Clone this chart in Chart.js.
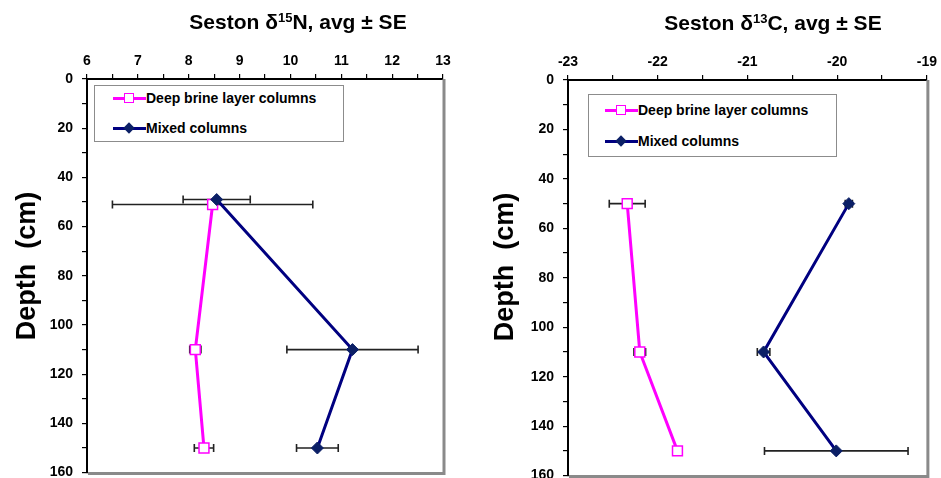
<!DOCTYPE html>
<html>
<head>
<meta charset="utf-8">
<script src="https://cdn.jsdelivr.net/npm/chart.js@4.4.1/dist/chart.umd.min.js"></script>
<style>
  body { margin: 0; background: #fff; width: 941px; height: 478px; overflow: hidden; position: relative;
         font-family: Arial, "Liberation Sans", sans-serif; }
  canvas { position: absolute; top: 0; }
  #chartN { left: 0; }
  #chartC { left: 470px; }
  .legend { position: absolute; background: #fff; border: 1px solid #8c8c8c; box-sizing: border-box; }
  .legend-item { position: absolute; height: 16px; font-weight: bold; font-size: 14px; line-height: 16px;
                 white-space: nowrap; color: #000; }
  .legend-line { position: absolute; top: 7px; width: 33px; height: 3px; }
  .legend-mark { position: absolute; box-sizing: border-box; }
</style>
</head>
<body>
<canvas id="chartN" width="470" height="490"></canvas>
<canvas id="chartC" width="471" height="493"></canvas>
<div id="legendN" class="legend" style="left:94px; top:85px; width:250px; height:57px;"></div>
<div id="legendC" class="legend" style="left:588px; top:94px; width:249px; height:63px;"></div>
<script>
const seriesNames = ['Deep brine layer columns', 'Mixed columns'];

// Seston d15N panel
const brineDepthN = [51, 110, 150];
const brineN = [8.47, 8.13, 8.30];
const brineNse = [1.97, 0.11, 0.19];
const mixedDepthN = [49, 110, 150];
const mixedN = [8.55, 11.22, 10.53];
const mixedNse = [0.66, 1.29, 0.41];

// Seston d13C panel
const depthC = [50, 110, 150];
const brineC = [-22.34, -22.20, -21.78];
const brineCse = [0.20, 0.065, 0];
const mixedC = [-19.87, -20.82, -20.01];
const mixedCse = [0.04, 0.07, 0.80];

const depthTicks = [0, 20, 40, 60, 80, 100, 120, 140, 160];

const magenta = '#FF00FF';
const navy = '#000080';
const navyMark = '#0b1f66';
const fontFamily = 'Arial, "Liberation Sans", sans-serif';

Chart.defaults.font.family = fontFamily;

// error bars, right/bottom frame and the titles
const decor = {
  id: 'decor',
  beforeDatasetsDraw(chart) {
    const { ctx, scales: { x, y } } = chart;
    ctx.save();
    ctx.strokeStyle = '#222';
    ctx.lineWidth = 1.6;
    chart.data.datasets.forEach(ds => {
      ds.data.forEach((p, i) => {
        const e = ds.err[i];
        if (!e) return;
        const py = y.getPixelForValue(p.y);
        const x0 = x.getPixelForValue(p.x - e);
        const x1 = x.getPixelForValue(p.x + e);
        ctx.beginPath();
        ctx.moveTo(x0, py); ctx.lineTo(x1, py);
        ctx.moveTo(x0, py - 4); ctx.lineTo(x0, py + 4);
        ctx.moveTo(x1, py - 4); ctx.lineTo(x1, py + 4);
        ctx.stroke();
      });
    });
    ctx.restore();
  },
  afterDraw(chart, args, opts) {
    const { ctx, chartArea: a } = chart;
    ctx.save();
    // gray frame on right and bottom
    ctx.strokeStyle = '#8a8a8a';
    ctx.lineWidth = 3;
    ctx.beginPath();
    ctx.moveTo(a.left + 1, a.bottom + 1);
    ctx.lineTo(a.right + 1, a.bottom + 1);
    ctx.lineTo(a.right + 1, a.top);
    ctx.stroke();

    // title with superscript
    const t = opts.title;
    ctx.fillStyle = '#000';
    ctx.textBaseline = 'alphabetic';
    ctx.textAlign = 'left';
    ctx.font = 'bold 21px ' + fontFamily;
    const w1 = ctx.measureText(t.pre).width;
    const w3 = ctx.measureText(t.post).width;
    ctx.font = 'bold 13px ' + fontFamily;
    const w2 = ctx.measureText(t.sup).width;
    const sx = t.cx - (w1 + w2 + w3) / 2;
    ctx.font = 'bold 21px ' + fontFamily;
    ctx.fillText(t.pre, sx, t.base);
    ctx.font = 'bold 13px ' + fontFamily;
    ctx.fillText(t.sup, sx + w1, t.base - 7);
    ctx.font = 'bold 21px ' + fontFamily;
    ctx.fillText(t.post, sx + w1 + w2, t.base);

    // y axis title
    ctx.translate(opts.yTitle.x, opts.yTitle.y);
    ctx.rotate(-Math.PI / 2);
    ctx.textAlign = 'center';
    ctx.font = 'bold 27px ' + fontFamily;
    ctx.fillText(opts.yTitle.text, 0, 0);
    ctx.restore();
  }
};

function toPoints(xs, ys) {
  return xs.map((v, i) => ({ x: v, y: ys[i] }));
}

function makeChart(id, cfg) {
  const ctx = document.getElementById(id).getContext('2d');
  return new Chart(ctx, {
    type: 'scatter',
    data: {
      datasets: [{
        label: seriesNames[0],
        data: toPoints(cfg.brine, cfg.brineDepth),
        err: cfg.brineSe,
        showLine: true,
        order: 1,
        borderColor: magenta,
        borderWidth: 3,
        pointStyle: 'rect',
        pointRadius: 7,
        pointBackgroundColor: '#fff',
        pointBorderColor: magenta,
        pointBorderWidth: 1.5
      }, {
        label: seriesNames[1],
        data: toPoints(cfg.mixed, cfg.mixedDepth),
        err: cfg.mixedSe,
        showLine: true,
        order: 0,
        borderColor: navy,
        borderWidth: 3,
        pointStyle: 'rectRot',
        pointRadius: 6,
        pointBackgroundColor: navyMark,
        pointBorderColor: navyMark,
        pointBorderWidth: 1
      }]
    },
    options: {
      responsive: false,
      animation: false,
      layout: { padding: cfg.padding },
      plugins: {
        legend: { display: false },
        tooltip: { enabled: false },
        decor: { title: cfg.title, yTitle: cfg.yTitle }
      },
      scales: {
        x: {
          type: 'linear',
          position: 'top',
          min: cfg.xMin,
          max: cfg.xMax,
          afterFit: s => { s.height = cfg.top; },
          border: { color: '#000', width: 2 },
          grid: { drawOnChartArea: false, color: '#000', lineWidth: 1.2, tickLength: 5 },
          ticks: {
            stepSize: 0.5,
            autoSkip: false,
            maxRotation: 0,
            padding: 4,
            color: '#000',
            font: { size: 14, weight: 'bold' },
            callback: v => Number.isInteger(v) ? String(v) : ''
          }
        },
        y: {
          type: 'linear',
          reverse: true,
          min: 0,
          max: 160,
          afterFit: s => { s.width = cfg.left; },
          border: { color: '#000', width: 2 },
          grid: { drawOnChartArea: false, color: '#000', lineWidth: 1.2, tickLength: 5 },
          ticks: {
            stepSize: 10,
            autoSkip: false,
            padding: 9,
            color: '#000',
            font: { size: 14, weight: 'bold' },
            callback: v => depthTicks.includes(v) ? String(v) : ''
          }
        }
      }
    },
    plugins: [decor]
  });
}

makeChart('chartN', {
  brine: brineN, brineDepth: brineDepthN, brineSe: brineNse,
  mixed: mixedN, mixedDepth: mixedDepthN, mixedSe: mixedNse,
  xMin: 6, xMax: 13,
  left: 87, top: 79,
  padding: { left: 0, top: 0, right: 27, bottom: 0 },
  title: { pre: 'Seston \u03B4', sup: '15', post: 'N, avg \u00B1 SE', cx: 298, base: 29 },
  yTitle: { text: 'Depth  (cm)', x: 35, y: 266 }
});

makeChart('chartC', {
  brine: brineC, brineDepth: depthC, brineSe: brineCse,
  mixed: mixedC, mixedDepth: depthC, mixedSe: mixedCse,
  xMin: -23, xMax: -19,
  left: 98, top: 80,
  padding: { left: 0, top: 0, right: 12, bottom: 0 },
  title: { pre: 'Seston \u03B4', sup: '13', post: 'C, avg \u00B1 SE', cx: 303, base: 30 },
  yTitle: { text: 'Depth  (cm)', x: 43, y: 267 }
});

// legends drawn in html, Excel style line + marker
function buildLegend(id, rows, lineLeft, textLeft) {
  const styles = [
    { color: magenta, mark: `width:10px;height:10px;left:11px;top:3px;background:#fff;border:1.5px solid ${magenta};` },
    { color: navy, mark: `width:8px;height:8px;left:12px;top:4px;background:${navyMark};transform:rotate(45deg);` }
  ];
  const legend = document.getElementById(id);
  legend.innerHTML = seriesNames.map((name, i) => `
    <div class="legend-item" style="left:${lineLeft}px; top:${rows[i] - 8}px;">
      <span class="legend-line" style="left:0; background:${styles[i].color}"></span>
      <span class="legend-mark" style="${styles[i].mark}"></span>
      <span style="position:absolute; left:${textLeft - lineLeft}px;">${name}</span>
    </div>`).join('');
}

buildLegend('legendN', [12, 42], 18, 51);
buildLegend('legendC', [15, 46], 16, 49);
</script>
</body>
</html>
